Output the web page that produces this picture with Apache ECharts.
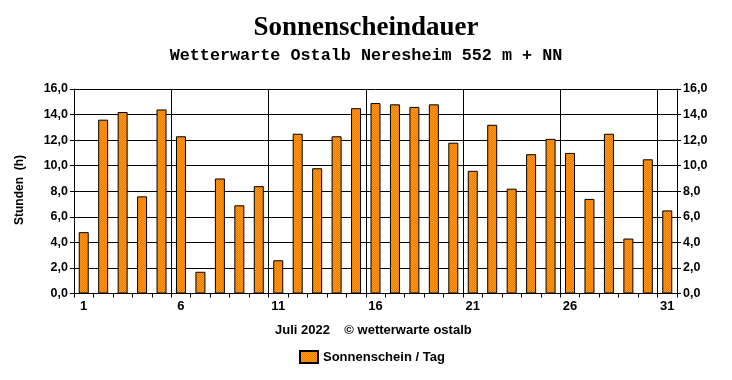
<!DOCTYPE html>
<html><head><meta charset="utf-8">
<script src="https://cdn.jsdelivr.net/npm/echarts@6/dist/echarts.min.js"></script>
<style>html,body{margin:0;padding:0;background:#fff}#c{width:732px;height:380px}</style>
</head><body><div id="c"></div>
<script>
const days = ['1','2','3','4','5','6','7','8','9','10','11','12','13','14','15','16','17','18','19','20','21','22','23','24','25','26','27','28','29','30','31'];
const sunshine = [4.8,13.6,14.2,7.6,14.4,12.3,1.7,9.0,6.9,8.4,2.6,12.5,9.8,12.3,14.5,14.9,14.8,14.6,14.8,11.8,9.6,13.2,8.2,10.9,12.1,11.0,7.4,12.5,4.3,10.5,6.5];
const yTicks = {min:0, max:16, interval:2};

const cv = document.createElement('canvas'); cv.width=2; cv.height=2;
const cx = cv.getContext('2d');
cx.fillStyle='#F07800'; cx.fillRect(0,0,2,2);
cx.fillStyle='#FF9C18'; cx.fillRect(0,0,1,1); cx.fillRect(1,1,1,1);
const pattern = {image: cv, repeat: 'repeat'};

const lbl = {fontFamily:'Liberation Sans, Arial', fontWeight:'bold', fontSize:12, color:'#000'};
const fmt = v => v.toFixed(1).replace('.', ',');
const chart = echarts.init(document.getElementById('c'), null, {renderer:'canvas'});
chart.setOption({
  animation:false,
  backgroundColor:'#fff',
  title:[
    {text:'Sonnenscheindauer', left:'center', top:15, padding:0, textStyle:{fontFamily:'Liberation Serif, Times New Roman', fontWeight:'bold', fontSize:27, color:'#000'}},
    {text:'Wetterwarte Ostalb Neresheim 552 m + NN', left:'center', top:47, padding:0, textStyle:{fontFamily:'Liberation Mono, Courier New', fontWeight:'bold', fontSize:16.8, color:'#000'}}
  ],
  graphic:[
    {type:'text', left:275, top:324, style:{text:'Juli 2022    \u00A9 wetterwarte ostalb', fill:'#000', font:'bold 13px Liberation Sans, Arial'}},
    {type:'text', x:20, y:190, rotation:Math.PI/2, style:{text:'Stunden  (h)', fill:'#000', font:'bold 12px Liberation Sans, Arial', align:'center', verticalAlign:'middle'}}
  ],
  legend:{left:299, top:350, padding:0, itemWidth:18, itemHeight:12, itemGap:8, icon:'rect',
    textStyle:Object.assign({}, lbl, {fontSize:13}),
    data:['Sonnenschein / Tag']},
  grid:{left:74, right:55, top:89, bottom:86.5},
  xAxis:{type:'category', data:days, boundaryGap:true,
    axisLine:{lineStyle:{color:'#000', width:1}},
    axisTick:{show:true, interval:0, length:4, lineStyle:{color:'#000'}},
    axisLabel:Object.assign({}, lbl, {interval:4, margin:6, fontSize:13}),
    splitLine:{show:true, interval:function(i){return i%5===0 && i>0;}, lineStyle:{color:'#000', width:1}}
  },
  yAxis:[
    Object.assign({type:'value', position:'left'}, yTicks, {
      axisLine:{show:true, lineStyle:{color:'#000'}},
      axisTick:{show:true, length:4, lineStyle:{color:'#000'}},
      axisLabel:Object.assign({}, lbl, {formatter:fmt, margin:6, fontSize:12.5}),
      splitLine:{show:true, lineStyle:{color:'#000', width:1}}
    }),
    Object.assign({type:'value', position:'right'}, yTicks, {
      axisLine:{show:true, lineStyle:{color:'#000'}},
      axisTick:{show:true, length:4, lineStyle:{color:'#000'}},
      axisLabel:Object.assign({}, lbl, {formatter:fmt, margin:6, fontSize:12.5}),
      splitLine:{show:false}
    })
  ],
  series:[{name:'Sonnenschein / Tag', type:'bar', data:sunshine, barWidth:10,
    itemStyle:{color:pattern, borderColor:'#000', borderWidth:1}}]
});
</script></body></html>
